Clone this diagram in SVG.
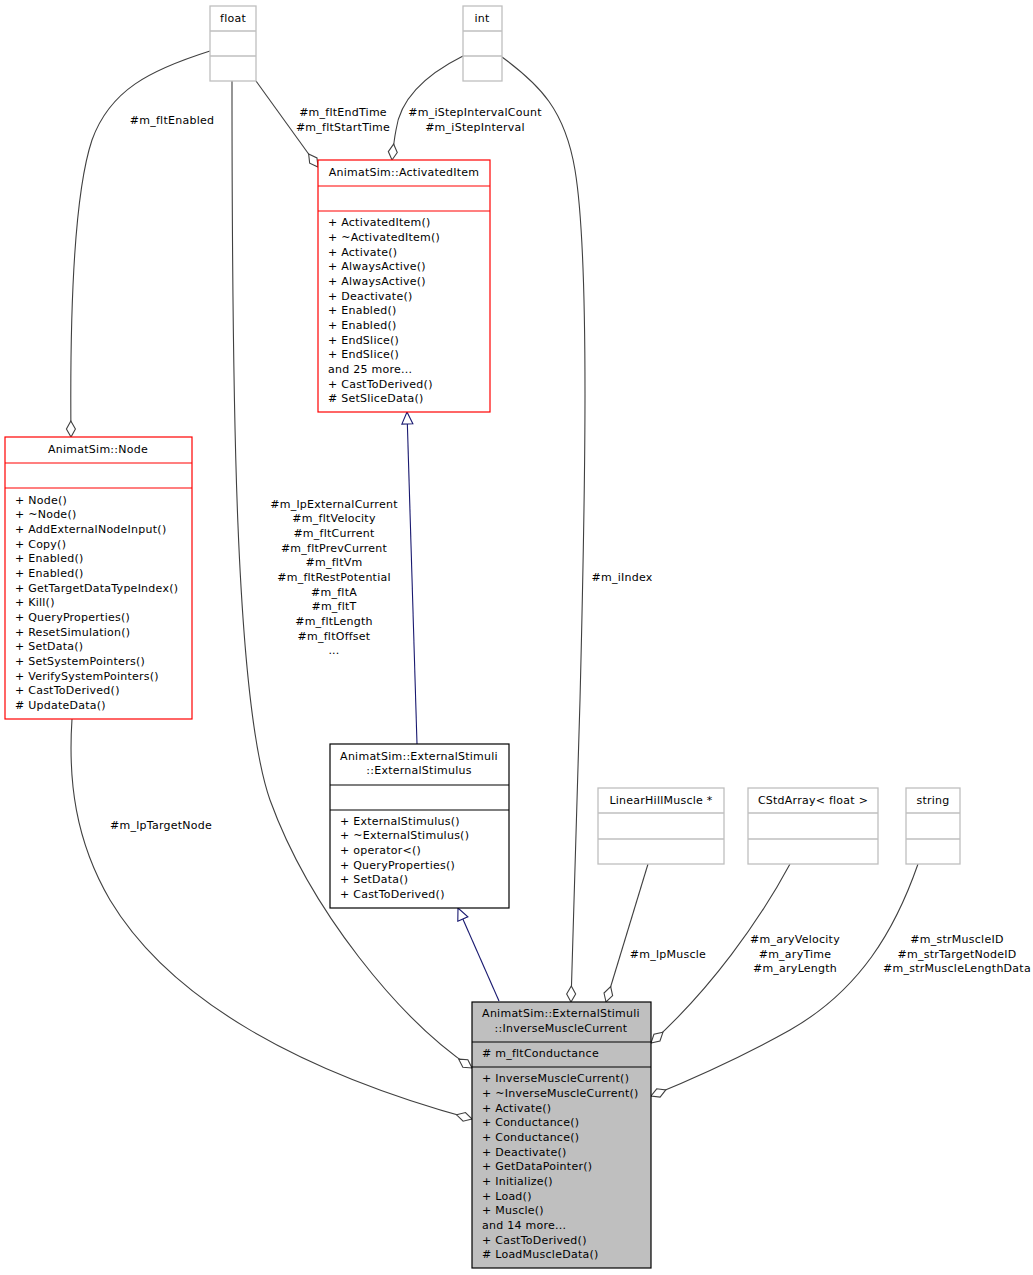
<svg xmlns="http://www.w3.org/2000/svg" width="1033" height="1275" viewBox="0 0 1033 1275">
<style>
text{font-family:"DejaVu Sans","Liberation Sans",sans-serif;font-size:11px;letter-spacing:0.25px;fill:#000}
.c{text-anchor:middle}
.gray{fill:#fff;stroke:#bfbfbf;stroke-width:1.3}
.red{fill:#fff;stroke:#ff0000;stroke-width:1.2}
.blk{fill:#fff;stroke:#000;stroke-width:1.2}
.cur{fill:#bfbfbf;stroke:#000;stroke-width:1.2}
.e{fill:none;stroke:#404040;stroke-width:1.1}
.inh{fill:none;stroke:#191970;stroke-width:1.1}
</style>
<defs>
<marker id="dia" markerUnits="userSpaceOnUse" viewBox="-1 -1 18 12" refX="16" refY="5" markerWidth="18" markerHeight="12" orient="auto">
<path d="M0,5 L8,0.5 L16,5 L8,9.5 Z" fill="#fff" stroke="#404040" stroke-width="1.1"/>
</marker>
<marker id="tri" markerUnits="userSpaceOnUse" viewBox="-1 -1 14 14" refX="12" refY="6" markerWidth="14" markerHeight="14" orient="auto">
<path d="M0,0.5 L12,6 L0,11.5 Z" fill="#fff" stroke="#191970" stroke-width="1.1"/>
</marker>
</defs>

<g id="edges">
<path class="e" d="M210,51 C150,70 110,90 92,140 C72,200 70,340 71,437" marker-end="url(#dia)"/>
<path class="e" d="M232,81 C232,400 235,700 270,800 C310,910 400,1020 472,1068" marker-end="url(#dia)"/>
<path class="e" d="M256,81 L318,167" marker-end="url(#dia)"/>
<path class="e" d="M463,56 C425,75 400,100 396,130 C394,140 393,150 392,160" marker-end="url(#dia)"/>
<path class="e" d="M502,57 C540,85 565,110 575,170 C590,260 585,500 580,700 C576,850 572,950 571,1002" marker-end="url(#dia)"/>
<path class="e" d="M72,719 C68,780 75,840 110,900 C170,1000 300,1072 472,1119" marker-end="url(#dia)"/>
<path class="inh" d="M417,744 L407,412" marker-end="url(#tri)"/>
<path class="inh" d="M499,1001 L458,908" marker-end="url(#tri)"/>
<path class="e" d="M648,864 L606,1002" marker-end="url(#dia)"/>
<path class="e" d="M790,864 C760,920 710,990 651,1043" marker-end="url(#dia)"/>
<path class="e" d="M918,864 C895,930 860,990 790,1030 C740,1058 690,1080 651,1096" marker-end="url(#dia)"/>
<text class="c" x="172" y="124">#m_fltEnabled</text>
<text class="c" x="343" y="116">#m_fltEndTime</text>
<text class="c" x="343" y="131">#m_fltStartTime</text>
<text class="c" x="475" y="116">#m_iStepIntervalCount</text>
<text class="c" x="475" y="131">#m_iStepInterval</text>
<text class="c" x="334" y="508">#m_lpExternalCurrent</text>
<text class="c" x="334" y="522">#m_fltVelocity</text>
<text class="c" x="334" y="537">#m_fltCurrent</text>
<text class="c" x="334" y="552">#m_fltPrevCurrent</text>
<text class="c" x="334" y="566">#m_fltVm</text>
<text class="c" x="334" y="581">#m_fltRestPotential</text>
<text class="c" x="334" y="596">#m_fltA</text>
<text class="c" x="334" y="610">#m_fltT</text>
<text class="c" x="334" y="625">#m_fltLength</text>
<text class="c" x="334" y="640">#m_fltOffset</text>
<text class="c" x="334" y="654">...</text>
<text class="c" x="622" y="581">#m_iIndex</text>
<text class="c" x="161" y="829">#m_lpTargetNode</text>
<text class="c" x="668" y="958">#m_lpMuscle</text>
<text class="c" x="795" y="943">#m_aryVelocity</text>
<text class="c" x="795" y="958">#m_aryTime</text>
<text class="c" x="795" y="972">#m_aryLength</text>
<text class="c" x="957" y="943">#m_strMuscleID</text>
<text class="c" x="957" y="958">#m_strTargetNodeID</text>
<text class="c" x="957" y="972">#m_strMuscleLengthData</text>
</g>

<g id="float">
<rect class="gray" x="210" y="6" width="46" height="75"/>
<line class="gray" x1="210" y1="31" x2="256" y2="31"/>
<line class="gray" x1="210" y1="56" x2="256" y2="56"/>
<text class="c" x="233" y="22">float</text>
</g>

<g id="int">
<rect class="gray" x="463" y="6" width="39" height="75"/>
<line class="gray" x1="463" y1="31" x2="502" y2="31"/>
<line class="gray" x1="463" y1="56" x2="502" y2="56"/>
<text class="c" x="482" y="22">int</text>
</g>

<g id="ActivatedItem">
<rect class="red" x="318" y="160" width="172" height="252"/>
<line class="red" x1="318" y1="186" x2="490" y2="186"/>
<line class="red" x1="318" y1="211" x2="490" y2="211"/>
<text class="c" x="404" y="176">AnimatSim::ActivatedItem</text>
<text x="328" y="226">+ ActivatedItem()</text>
<text x="328" y="241">+ ~ActivatedItem()</text>
<text x="328" y="256">+ Activate()</text>
<text x="328" y="270">+ AlwaysActive()</text>
<text x="328" y="285">+ AlwaysActive()</text>
<text x="328" y="300">+ Deactivate()</text>
<text x="328" y="314">+ Enabled()</text>
<text x="328" y="329">+ Enabled()</text>
<text x="328" y="344">+ EndSlice()</text>
<text x="328" y="358">+ EndSlice()</text>
<text x="328" y="373">and 25 more...</text>
<text x="328" y="388">+ CastToDerived()</text>
<text x="328" y="402"># SetSliceData()</text>
</g>

<g id="Node">
<rect class="red" x="5" y="437" width="187" height="282"/>
<line class="red" x1="5" y1="463" x2="192" y2="463"/>
<line class="red" x1="5" y1="488" x2="192" y2="488"/>
<text class="c" x="98" y="453">AnimatSim::Node</text>
<text x="15" y="504">+ Node()</text>
<text x="15" y="518">+ ~Node()</text>
<text x="15" y="533">+ AddExternalNodeInput()</text>
<text x="15" y="548">+ Copy()</text>
<text x="15" y="562">+ Enabled()</text>
<text x="15" y="577">+ Enabled()</text>
<text x="15" y="592">+ GetTargetDataTypeIndex()</text>
<text x="15" y="606">+ Kill()</text>
<text x="15" y="621">+ QueryProperties()</text>
<text x="15" y="636">+ ResetSimulation()</text>
<text x="15" y="650">+ SetData()</text>
<text x="15" y="665">+ SetSystemPointers()</text>
<text x="15" y="680">+ VerifySystemPointers()</text>
<text x="15" y="694">+ CastToDerived()</text>
<text x="15" y="709"># UpdateData()</text>
</g>

<g id="ExternalStimulus">
<rect class="blk" x="330" y="744" width="179" height="164"/>
<line class="blk" x1="330" y1="785" x2="509" y2="785"/>
<line class="blk" x1="330" y1="810" x2="509" y2="810"/>
<text class="c" x="419" y="760">AnimatSim::ExternalStimuli</text>
<text class="c" x="419" y="774">::ExternalStimulus</text>
<text x="340" y="825">+ ExternalStimulus()</text>
<text x="340" y="839">+ ~ExternalStimulus()</text>
<text x="340" y="854">+ operator&lt;()</text>
<text x="340" y="869">+ QueryProperties()</text>
<text x="340" y="883">+ SetData()</text>
<text x="340" y="898">+ CastToDerived()</text>
</g>

<g id="LinearHillMuscle">
<rect class="gray" x="598" y="788" width="126" height="76"/>
<line class="gray" x1="598" y1="813" x2="724" y2="813"/>
<line class="gray" x1="598" y1="839" x2="724" y2="839"/>
<text class="c" x="661" y="804">LinearHillMuscle *</text>
</g>

<g id="CStdArray">
<rect class="gray" x="748" y="788" width="130" height="76"/>
<line class="gray" x1="748" y1="813" x2="878" y2="813"/>
<line class="gray" x1="748" y1="839" x2="878" y2="839"/>
<text class="c" x="813" y="804">CStdArray&lt; float &gt;</text>
</g>

<g id="string">
<rect class="gray" x="906" y="788" width="54" height="76"/>
<line class="gray" x1="906" y1="813" x2="960" y2="813"/>
<line class="gray" x1="906" y1="839" x2="960" y2="839"/>
<text class="c" x="933" y="804">string</text>
</g>

<g id="InverseMuscleCurrent">
<rect class="cur" x="472" y="1002" width="179" height="266"/>
<line class="cur" x1="472" y1="1042" x2="651" y2="1042"/>
<line class="cur" x1="472" y1="1067" x2="651" y2="1067"/>
<text class="c" x="561" y="1017">AnimatSim::ExternalStimuli</text>
<text class="c" x="561" y="1032">::InverseMuscleCurrent</text>
<text x="482" y="1057"># m_fltConductance</text>
<text x="482" y="1082">+ InverseMuscleCurrent()</text>
<text x="482" y="1097">+ ~InverseMuscleCurrent()</text>
<text x="482" y="1112">+ Activate()</text>
<text x="482" y="1126">+ Conductance()</text>
<text x="482" y="1141">+ Conductance()</text>
<text x="482" y="1156">+ Deactivate()</text>
<text x="482" y="1170">+ GetDataPointer()</text>
<text x="482" y="1185">+ Initialize()</text>
<text x="482" y="1200">+ Load()</text>
<text x="482" y="1214">+ Muscle()</text>
<text x="482" y="1229">and 14 more...</text>
<text x="482" y="1244">+ CastToDerived()</text>
<text x="482" y="1258"># LoadMuscleData()</text>
</g>
</svg>
